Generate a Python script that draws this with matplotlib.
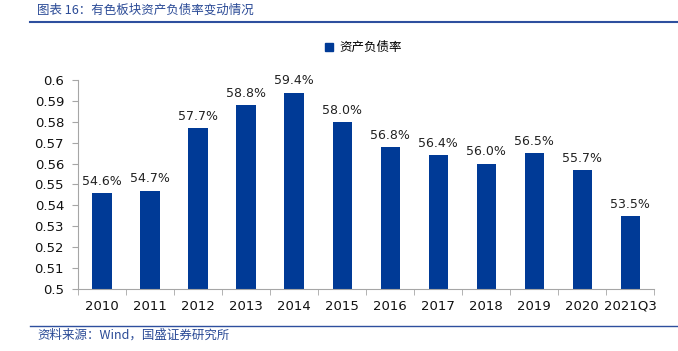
import matplotlib.pyplot as plt
from matplotlib.lines import Line2D
import numpy as np

plt.rcParams['font.family'] = ['DejaVu Sans', 'Noto Sans CJK SC']

# data
categories = ['2010', '2011', '2012', '2013', '2014', '2015', '2016',
              '2017', '2018', '2019', '2020', '2021Q3']
debt_ratio = [0.546, 0.547, 0.577, 0.588, 0.594, 0.580, 0.568,
              0.564, 0.560, 0.565, 0.557, 0.535]
series_name = '资产负债率'
title = '图表 16：有色板块资产负债率变动情况'
source = '资料来源：Wind，国盛证券研究所'

bar_color = '#003A96'
axis_color = '#A6A6A6'
title_color = '#2A4A96'

fig = plt.figure(figsize=(6.78, 3.51), dpi=100)
ax = fig.add_axes([0.115, 0.177, 0.85, 0.595])

x = np.arange(len(categories))
ax.bar(x, debt_ratio, width=0.4, color=bar_color, label=series_name, zorder=2)

for xi, v in zip(x, debt_ratio):
    ax.text(xi, v + 0.0025, f'{v * 100:.1f}%', ha='center', va='bottom',
            fontsize=9, color='#222222')

yticks = np.arange(0.5, 0.6001, 0.01)
ax.set_xlim(-0.5, len(categories) - 0.5)
ax.set_ylim(0.5, 0.6)
ax.set_yticks(yticks)
ax.set_yticklabels([f'{t:.2f}'.rstrip('0').rstrip('.') for t in yticks])
ax.set_xticks(x)
ax.set_xticklabels(categories)
ax.set_xticks(np.arange(-0.5, len(categories), 1), minor=True)

for side in ['top', 'right']:
    ax.spines[side].set_visible(False)
for side in ['left', 'bottom']:
    ax.spines[side].set_color(axis_color)
    ax.spines[side].set_linewidth(0.8)

ax.tick_params(axis='y', direction='out', length=4, color=axis_color,
               labelsize=9.5, labelcolor='#111111', pad=6)
ax.tick_params(axis='x', which='major', length=0, labelsize=9.5,
               labelcolor='#111111', pad=8)
ax.tick_params(axis='x', which='minor', direction='out', length=4,
               color=axis_color)

handle = Line2D([], [], marker='s', color='none', markerfacecolor=bar_color,
                markeredgecolor=bar_color, markersize=6)
fig.legend([handle], [series_name], loc='center', bbox_to_anchor=(0.535, 0.865),
           frameon=False, handlelength=0.8, handletextpad=0.4,
           prop={'family': ['Noto Sans CJK SC'], 'size': 9})

fig.text(0.055, 0.99, title, fontsize=9, color=title_color, va='top',
         ha='left', family=['Noto Sans CJK SC'], style='italic')
fig.add_artist(Line2D([0.044, 1.0], [0.936, 0.936], color='#2E4F9E',
                      linewidth=1.5, transform=fig.transFigure))
fig.add_artist(Line2D([0.044, 1.0], [0.072, 0.072], color='#2E4F9E',
                      linewidth=1.0, transform=fig.transFigure))
fig.text(0.055, 0.045, source, fontsize=9, color=title_color, va='center',
         ha='left', family=['Noto Sans CJK SC'], style='italic')

fig.savefig('out.png', dpi=100)
